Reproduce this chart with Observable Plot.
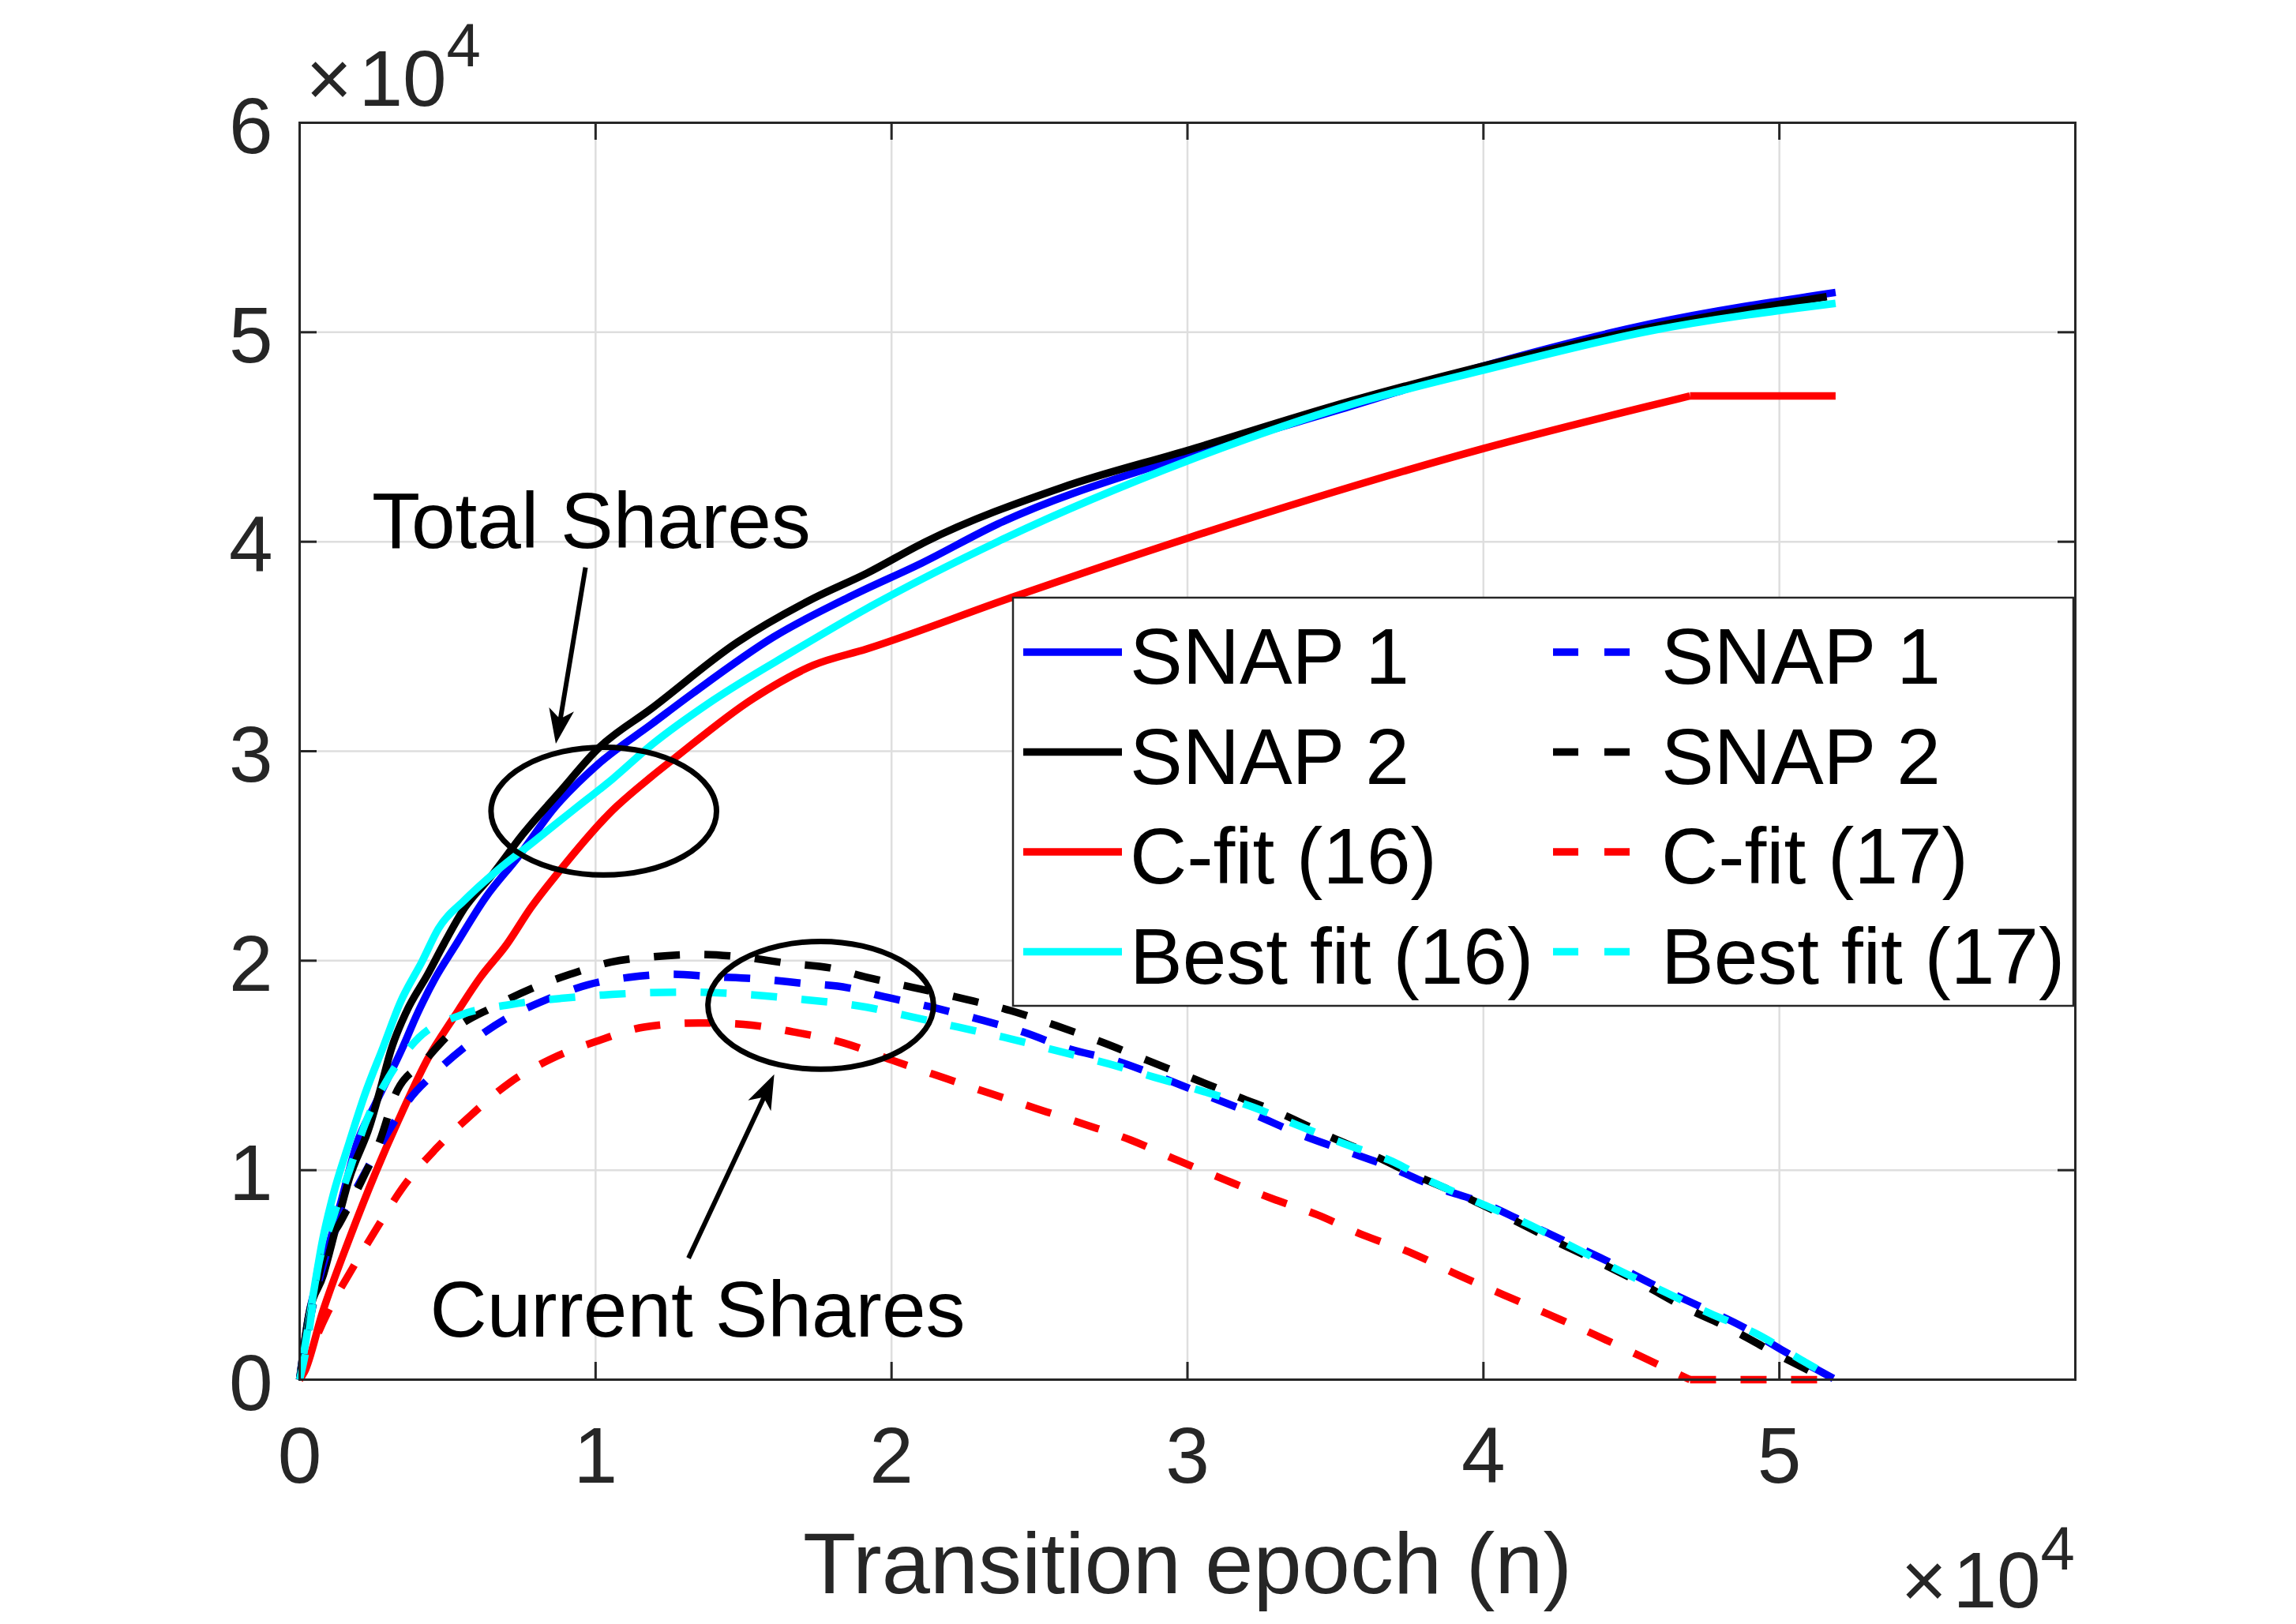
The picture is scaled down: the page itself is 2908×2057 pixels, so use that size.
<!DOCTYPE html>
<html>
<head>
<meta charset="utf-8">
<script src="https://cdn.jsdelivr.net/npm/d3@7"></script>
<script src="https://cdn.jsdelivr.net/npm/@observablehq/plot@0.6"></script>
<style>
  html, body { margin: 0; padding: 0; background: #fff; overflow: hidden; }
  #chart svg { display: block; }
</style>
</head>
<body>
<div id="chart"></div>
<script>
// All values are in units of 10^4 (as on the chart's axes).
const xTicks = [0, 1, 2, 3, 4, 5];
const yTicks = [0, 1, 2, 3, 4, 5, 6];

// ---- Total shares (solid lines) ----
const snap1Total = [[0,0],[0.03,0.3],[0.08,0.55],[0.14,0.85],[0.194,1.13],[0.256,1.317],[0.345,1.576],[0.398,1.748],[0.46,1.921],[0.523,2.065],[0.629,2.303],[0.736,2.491],[0.86,2.728],[1.011,2.941],[1.189,3.129],[1.329,3.277],[1.601,3.545],[1.873,3.747],[2.102,3.898],[2.358,4.084],[3.0,4.411],[3.55,4.646],[4.0,4.839],[4.565,5.04],[5.19,5.19]];
const snap2Total = [[0,0],[0.03,0.3],[0.08,0.5],[0.123,0.727],[0.167,0.957],[0.238,1.216],[0.273,1.388],[0.309,1.575],[0.363,1.763],[0.433,1.935],[0.487,2.079],[0.558,2.253],[0.647,2.403],[0.754,2.603],[0.878,2.804],[1.011,3.016],[1.189,3.204],[1.479,3.52],[1.737,3.73],[1.916,3.849],[2.115,4.0],[2.578,4.26],[3.0,4.436],[3.55,4.671],[4.0,4.839],[4.565,5.023],[5.16,5.17]];
const cfitTotal = [[0,0],[0.016,0.036],[0.078,0.324],[0.167,0.669],[0.256,0.986],[0.345,1.273],[0.433,1.532],[0.523,1.734],[0.611,1.921],[0.7,2.078],[0.78,2.25],[0.878,2.428],[1.056,2.716],[1.189,2.879],[1.261,2.96],[1.533,3.252],[1.737,3.411],[1.916,3.488],[2.402,3.732],[3.0,4.017],[4.0,4.445],[4.698,4.696],[5.19,4.696]];
const bestTotal = [[0,0],[0.043,0.381],[0.078,0.669],[0.114,0.885],[0.167,1.129],[0.22,1.36],[0.283,1.59],[0.34,1.8],[0.415,2.0],[0.469,2.153],[0.558,2.29],[0.665,2.428],[0.789,2.566],[0.922,2.716],[1.056,2.866],[1.189,3.03],[1.397,3.243],[1.669,3.478],[1.916,3.681],[2.358,4.0],[3.0,4.386],[3.55,4.654],[4.0,4.819],[4.565,5.007],[5.19,5.138]];

// ---- Current shares (dashed lines) ----
const snap1Current = [[0,0],[0.03,0.25],[0.08,0.55],[0.136,0.763],[0.203,0.942],[0.283,1.144],[0.367,1.331],[0.471,1.482],[0.587,1.619],[0.707,1.731],[0.82,1.806],[0.974,1.885],[1.116,1.921],[1.258,1.935],[1.395,1.924],[1.547,1.913],[1.7,1.892],[1.852,1.871],[1.96,1.833],[2.137,1.778],[2.291,1.722],[2.446,1.659],[2.6,1.579],[2.755,1.524],[2.91,1.444],[3.064,1.357],[3.219,1.27],[3.373,1.175],[3.528,1.095],[3.682,1.016],[3.837,0.921],[4.002,0.841],[4.124,0.762],[4.278,0.659],[4.433,0.556],[4.565,0.46],[4.72,0.357],[4.874,0.254],[5.007,0.143],[5.19,0]];
const snap2Current = [[0,0],[0.03,0.25],[0.089,0.626],[0.136,0.748],[0.207,0.942],[0.272,1.144],[0.323,1.36],[0.42,1.518],[0.527,1.676],[0.651,1.777],[0.782,1.866],[0.914,1.935],[1.052,1.993],[1.197,2.019],[1.349,2.03],[1.486,2.019],[1.654,1.987],[1.791,1.966],[1.916,1.921],[2.071,1.873],[2.247,1.817],[2.402,1.762],[2.556,1.69],[2.711,1.611],[2.865,1.524],[3.02,1.437],[3.174,1.349],[3.329,1.262],[3.483,1.159],[3.616,1.079],[3.77,0.976],[3.925,0.881],[4.079,0.778],[4.234,0.667],[4.388,0.563],[4.532,0.46],[4.675,0.349],[4.83,0.246],[4.985,0.127],[5.16,0]];
const cfitCurrent = [[0,0],[0.025,0.094],[0.096,0.324],[0.176,0.525],[0.256,0.712],[0.354,0.928],[0.46,1.101],[0.576,1.259],[0.709,1.417],[0.851,1.532],[1.011,1.619],[1.163,1.683],[1.349,1.703],[1.5,1.696],[1.669,1.66],[1.837,1.608],[2.004,1.524],[2.17,1.444],[2.336,1.365],[2.49,1.294],[2.645,1.222],[2.81,1.143],[2.965,1.048],[3.13,0.952],[3.285,0.865],[3.44,0.786],[3.594,0.69],[3.76,0.603],[3.914,0.5],[4.068,0.405],[4.223,0.31],[4.377,0.214],[4.532,0.111],[4.698,0],[5.19,0]];
const bestCurrent = [[0,0],[0.023,0.151],[0.061,0.525],[0.114,0.777],[0.167,0.993],[0.22,1.216],[0.299,1.439],[0.403,1.633],[0.545,1.741],[0.714,1.791],[0.883,1.82],[1.056,1.839],[1.3,1.85],[1.5,1.84],[1.7,1.815],[1.916,1.778],[2.049,1.738],[2.225,1.683],[2.402,1.627],[2.556,1.571],[2.733,1.508],[2.887,1.444],[3.042,1.381],[3.219,1.302],[3.373,1.214],[3.528,1.127],[3.682,1.048],[3.837,0.937],[3.991,0.841],[4.146,0.746],[4.3,0.635],[4.455,0.524],[4.609,0.421],[4.764,0.317],[4.918,0.222],[5.073,0.095],[5.19,0]];

const solidNames = ["SNAP 1", "SNAP 2", "C-fit (16)", "Best fit (16)"];
const dashedNames = ["SNAP 1", "SNAP 2", "C-fit (17)", "Best fit (17)"];
const seriesColors = ["#0000ff", "#000000", "#ff0000", "#00ffff"];
const solidData = [snap1Total, snap2Total, cfitTotal, bestTotal];
const dashedData = [snap1Current, snap2Current, cfitCurrent, bestCurrent];
// the C-fit curves end in a straight, constant tail (drawn without smoothing)
const hasFlatTail = [false, false, true, false];

// ---- Annotations (data coordinates, units of 10^4) ----
const annotationTexts = [
  {label: "Total Shares", x: 0.244, y: 3.969},
  {label: "Current Shares", x: 0.44, y: 0.207}
];
const annotationArrows = [
  {x1: 0.966, y1: 3.877, x2: 0.867, y2: 3.034},
  {x1: 1.314, y1: 0.58, x2: 1.605, y2: 1.456}
];
const annotationEllipses = [
  {cx: 1.029, cy: 2.712, rx: 0.381, ry: 0.305},
  {cx: 1.762, cy: 1.785, rx: 0.381, ry: 0.305}
];

// ---- Layout / style ----
const W = 2908, H = 2057;
const M = {left: 379, right: 280, top: 155, bottom: 310};
const plotW = W - M.left - M.right, plotH = H - M.top - M.bottom;
const FONT = "'Liberation Sans', Arial, Helvetica, sans-serif";
const AXIS = "#262626";
const GRID = "#dedede";
const LW = 9.5;
const DASH = "33,31";
const TICK = 22;
const HEAD = {length: 44, back: 32, half: 16};

const toRows = (pairs, series) => pairs.map(([x, y]) => ({x, y, series}));

function seriesMarks(pairs, name, color, dash, flatTail) {
  const rows = toRows(pairs, name);
  const base = {x: "x", y: "y", stroke: color, strokeWidth: LW, strokeLinejoin: "round", strokeLinecap: "butt"};
  if (dash) base.strokeDasharray = dash;
  if (!flatTail) return [Plot.line(rows, {...base, curve: "monotone-x"})];
  return [
    Plot.line(rows.slice(0, -1), {...base, curve: "monotone-x"}),
    Plot.line(rows.slice(-2), {...base, curve: "linear"})
  ];
}

const lineMarks = [];
solidData.forEach((d, i) => lineMarks.push(...seriesMarks(d, "total " + solidNames[i], seriesColors[i], null, hasFlatTail[i])));
dashedData.forEach((d, i) => lineMarks.push(...seriesMarks(d, "current " + dashedNames[i], seriesColors[i], DASH, hasFlatTail[i])));

const svg = Plot.plot({
  width: W, height: H,
  marginLeft: M.left, marginRight: M.right, marginTop: M.top, marginBottom: M.bottom,
  style: {fontFamily: FONT, background: "white", overflow: "visible"},
  x: {domain: [0, 6]},
  y: {domain: [0, 6]},
  marks: [
    Plot.gridX({ticks: xTicks, stroke: GRID, strokeOpacity: 1, strokeWidth: 2.5}),
    Plot.gridY({ticks: yTicks, stroke: GRID, strokeOpacity: 1, strokeWidth: 2.5}),
    ...lineMarks,
    Plot.frame({stroke: AXIS, strokeWidth: 3}),
    // inward ticks on all four sides
    Plot.tickX(xTicks, {x: d => d, insetTop: plotH - TICK, stroke: AXIS, strokeWidth: 3}),
    Plot.tickX(xTicks, {x: d => d, insetBottom: plotH - TICK, stroke: AXIS, strokeWidth: 3}),
    Plot.tickY(yTicks, {y: d => d, insetRight: plotW - TICK, stroke: AXIS, strokeWidth: 3}),
    Plot.tickY(yTicks, {y: d => d, insetLeft: plotW - TICK, stroke: AXIS, strokeWidth: 3}),
    Plot.axisX({ticks: xTicks, tickSize: 0, tickPadding: 59, fontSize: 100, color: AXIS, label: null, tickFormat: d => String(d)}),
    Plot.axisY({ticks: yTicks, tickSize: 0, tickPadding: 34, fontSize: 100, color: AXIS, label: null, dy: 6, tickFormat: d => String(d)}),
    // axis label
    Plot.text(["Transition epoch (n)"], {frameAnchor: "bottom", dy: 270, lineAnchor: "bottom", textAnchor: "middle", fontSize: 110, fill: AXIS}),
    // exponent markers
    Plot.text(["×"], {frameAnchor: "top-left", dx: 8, dy: -22, lineAnchor: "bottom", textAnchor: "start", fontSize: 100, fill: AXIS}),
    Plot.text(["10"], {frameAnchor: "top-left", dx: 75, dy: -22, lineAnchor: "bottom", textAnchor: "start", fontSize: 100, fill: AXIS}),
    Plot.text(["4"], {frameAnchor: "top-left", dx: 186, dy: -72, lineAnchor: "bottom", textAnchor: "start", fontSize: 78, fill: AXIS}),
    Plot.text(["×"], {frameAnchor: "bottom-left", dx: 2028, dy: 288, lineAnchor: "bottom", textAnchor: "start", fontSize: 100, fill: AXIS}),
    Plot.text(["10"], {frameAnchor: "bottom-left", dx: 2094, dy: 288, lineAnchor: "bottom", textAnchor: "start", fontSize: 100, fill: AXIS}),
    Plot.text(["4"], {frameAnchor: "bottom-left", dx: 2205, dy: 240, lineAnchor: "bottom", textAnchor: "start", fontSize: 78, fill: AXIS}),
    // annotations
    Plot.text(annotationTexts, {x: "x", y: "y", text: "label", textAnchor: "start", lineAnchor: "bottom", fontSize: 100, fill: "black"}),
    Plot.arrow(annotationArrows, {x1: "x1", y1: "y1", x2: "x2", y2: "y2", stroke: "black", strokeWidth: 6, headLength: 0, insetEnd: 30, strokeLinecap: "butt"})
  ]
});

// Ellipses, filled arrow heads and legend, placed through the plot's own scales / frame
const sx = svg.scale("x"), sy = svg.scale("y");
const root = d3.select(svg);

// filled arrow heads at the arrow tips
annotationArrows.forEach(a => {
  const tx = sx.apply(a.x2), ty = sy.apply(a.y2);
  const fx = sx.apply(a.x1), fy = sy.apply(a.y1);
  const len = Math.hypot(tx - fx, ty - fy);
  const ux = (tx - fx) / len, uy = (ty - fy) / len;
  const nx = -uy, ny = ux;
  const pts = [
    [tx, ty],
    [tx - HEAD.length * ux + HEAD.half * nx, ty - HEAD.length * uy + HEAD.half * ny],
    [tx - HEAD.back * ux, ty - HEAD.back * uy],
    [tx - HEAD.length * ux - HEAD.half * nx, ty - HEAD.length * uy - HEAD.half * ny]
  ];
  root.append("polygon").attr("points", pts.map(p => p.join(",")).join(" ")).attr("fill", "black");
});

// legend (inside the axes)
const frameRight = W - M.right;
const lg = {x: frameRight - 1345, y: M.top + 602, w: 1343, h: 517};
const legendG = root.append("g").attr("font-family", FONT).attr("font-size", 100).attr("text-anchor", "start");
legendG.append("rect")
  .attr("x", lg.x).attr("y", lg.y).attr("width", lg.w).attr("height", lg.h)
  .attr("fill", "white").attr("stroke", AXIS).attr("stroke-width", 2.5);
const rowStep = 126.5, firstRow = lg.y + 69;
const cols = [
  {names: solidNames, lineX: lg.x + 13, textX: lg.x + 148, dash: null},
  {names: dashedNames, lineX: lg.x + 684, textX: lg.x + 821, dash: "32,33"}
];
cols.forEach(col => {
  col.names.forEach((name, i) => {
    const cy = firstRow + i * rowStep;
    const ln = legendG.append("line")
      .attr("x1", col.lineX).attr("x2", col.lineX + 125)
      .attr("y1", cy).attr("y2", cy)
      .attr("stroke", seriesColors[i]).attr("stroke-width", LW);
    if (col.dash) ln.attr("stroke-dasharray", col.dash);
    legendG.append("text").attr("x", col.textX).attr("y", cy + 40)
      .attr("text-anchor", "start").attr("fill", "black").text(name);
  });
});

// ellipses
annotationEllipses.forEach(e => {
  const cx = sx.apply(e.cx), cy = sy.apply(e.cy);
  const rx = Math.abs(sx.apply(e.cx + e.rx) - cx);
  const ry = Math.abs(sy.apply(e.cy + e.ry) - cy);
  root.append("ellipse").attr("cx", cx).attr("cy", cy).attr("rx", rx).attr("ry", ry)
    .attr("fill", "none").attr("stroke", "black").attr("stroke-width", 7);
});

document.getElementById("chart").appendChild(svg);
</script>
</body>
</html>
